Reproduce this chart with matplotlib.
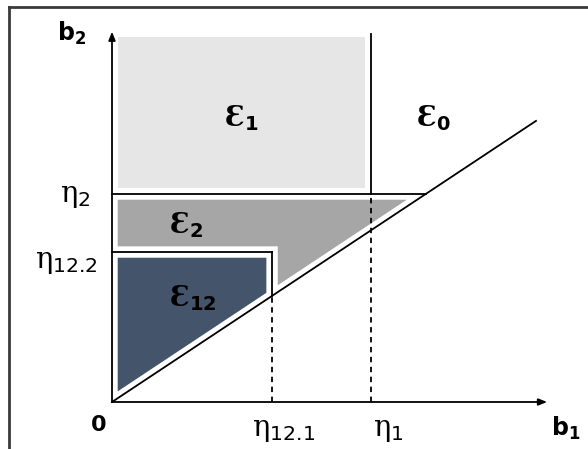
import matplotlib
matplotlib.use('Agg')
import matplotlib.pyplot as plt
from matplotlib.patches import Polygon
from matplotlib.lines import Line2D

plt.rcParams['mathtext.fontset'] = 'custom'
plt.rcParams['mathtext.rm'] = 'DejaVu Serif'
plt.rcParams['mathtext.sf'] = 'DejaVu Sans'
plt.rcParams['mathtext.bf'] = 'DejaVu Sans:bold'

# thresholds (axis units, eta_1 = 1)
eta_1 = 1.0
eta_12_1 = 0.618
eta_2 = 0.803
eta_12_2 = 0.579
slope = 0.663          # diagonal b2 = slope * b1
diag_end = 1.637       # b1 where the diagonal stops
y_top = 1.41           # top of the b2 axis
x_end = 1.68           # end of the b1 axis

region_colors = {'e1': '#e6e6e6', 'e2': '#a6a6a6', 'e12': '#44546a'}
gap = 0.022            # white margin between a region and its border lines
d = gap * (1 + slope ** 2) ** 0.5

fig = plt.figure(figsize=(5.88, 4.49), dpi=100)
ax = fig.add_axes([0, 0, 1, 1])
ax.set_xlim(-112 / 259, 476 / 259)
ax.set_ylim(-47 / 259, 402 / 259)
ax.axis('off')

# outer frame (cropped at right and bottom)
fig.add_artist(Line2D([9 / 588, 1], [1 - 7 / 449, 1 - 7 / 449], color='#3a3a3a', lw=2))
fig.add_artist(Line2D([9 / 588, 9 / 588], [0, 1 - 7 / 449], color='#3a3a3a', lw=2))

# filled regions
e1 = [(gap, eta_2 + gap), (eta_1 - gap, eta_2 + gap), (eta_1 - gap, y_top), (gap, y_top)]
e2 = [(gap, eta_2 - gap), ((eta_2 - gap - d) / slope, eta_2 - gap),
      (eta_12_1 + gap, slope * (eta_12_1 + gap) + d), (eta_12_1 + gap, eta_12_2 + gap),
      (gap, eta_12_2 + gap)]
e12 = [(gap, eta_12_2 - gap), (eta_12_1 - gap, eta_12_2 - gap),
       (eta_12_1 - gap, slope * (eta_12_1 - gap) + d), (gap, slope * gap + d)]
for pts, key in [(e1, 'e1'), (e2, 'e2'), (e12, 'e12')]:
    ax.add_patch(Polygon(pts, closed=True, facecolor=region_colors[key], edgecolor='none'))

# border lines
k = dict(color='black', lw=1.3)
dash = dict(color='black', lw=1.3, ls=(0, (3, 2.5)))
ax.plot([0, diag_end], [0, slope * diag_end], **k)
ax.plot([0, eta_2 / slope], [eta_2, eta_2], **k)
ax.plot([eta_1, eta_1], [eta_2, y_top + 0.01], **k)
ax.plot([eta_1, eta_1], [0, eta_2], **dash)
ax.plot([0, eta_12_1], [eta_12_2, eta_12_2], **k)
ax.plot([eta_12_1, eta_12_1], [slope * eta_12_1, eta_12_2], **k)
ax.plot([eta_12_1, eta_12_1], [0, slope * eta_12_1], **dash)

# axes with arrows
arrow = dict(arrowstyle='-|>,head_length=0.5,head_width=0.2', color='black', lw=1.3,
             shrinkA=0, shrinkB=0)
ax.annotate('', xy=(x_end, 0), xytext=(0, 0), arrowprops=arrow)
ax.annotate('', xy=(0, y_top + 0.02), xytext=(0, 0), arrowprops=arrow)


def px(x, y):
    return (x - 112) / 259, (402 - y) / 259


labels = [((72, 33), r'$\mathbf{b}_\mathbf{2}$', 17),
          ((566, 428), r'$\mathbf{b}_\mathbf{1}$', 17),
          ((98, 425), r'$\mathbf{0}$', 16),
          ((75, 196), r'$\mathrm{\eta}_\mathsf{2}$', 21),
          ((66, 262), r'$\mathrm{\eta}_\mathsf{12.2}$', 21),
          ((284, 430), r'$\mathrm{\eta}_\mathsf{12.1}$', 21),
          ((388, 430), r'$\mathrm{\eta}_\mathsf{1}$', 21)]
for (x, y), s, fs in labels:
    ax.text(*px(x, y), s, fontsize=fs, ha='center', va='center')

eps = [((241, 118), '1'), ((433, 118), '0'), ((186, 225), '2'), ((193, 298), '12')]
for (x, y), sub in eps:
    ax.text(*px(x, y), 'Ɛ' + r'$_{\mathbf{' + sub + '}}$', fontsize=20,
            family='DejaVu Serif', weight='bold', ha='center', va='center')

fig.savefig('out.png', dpi=100)
